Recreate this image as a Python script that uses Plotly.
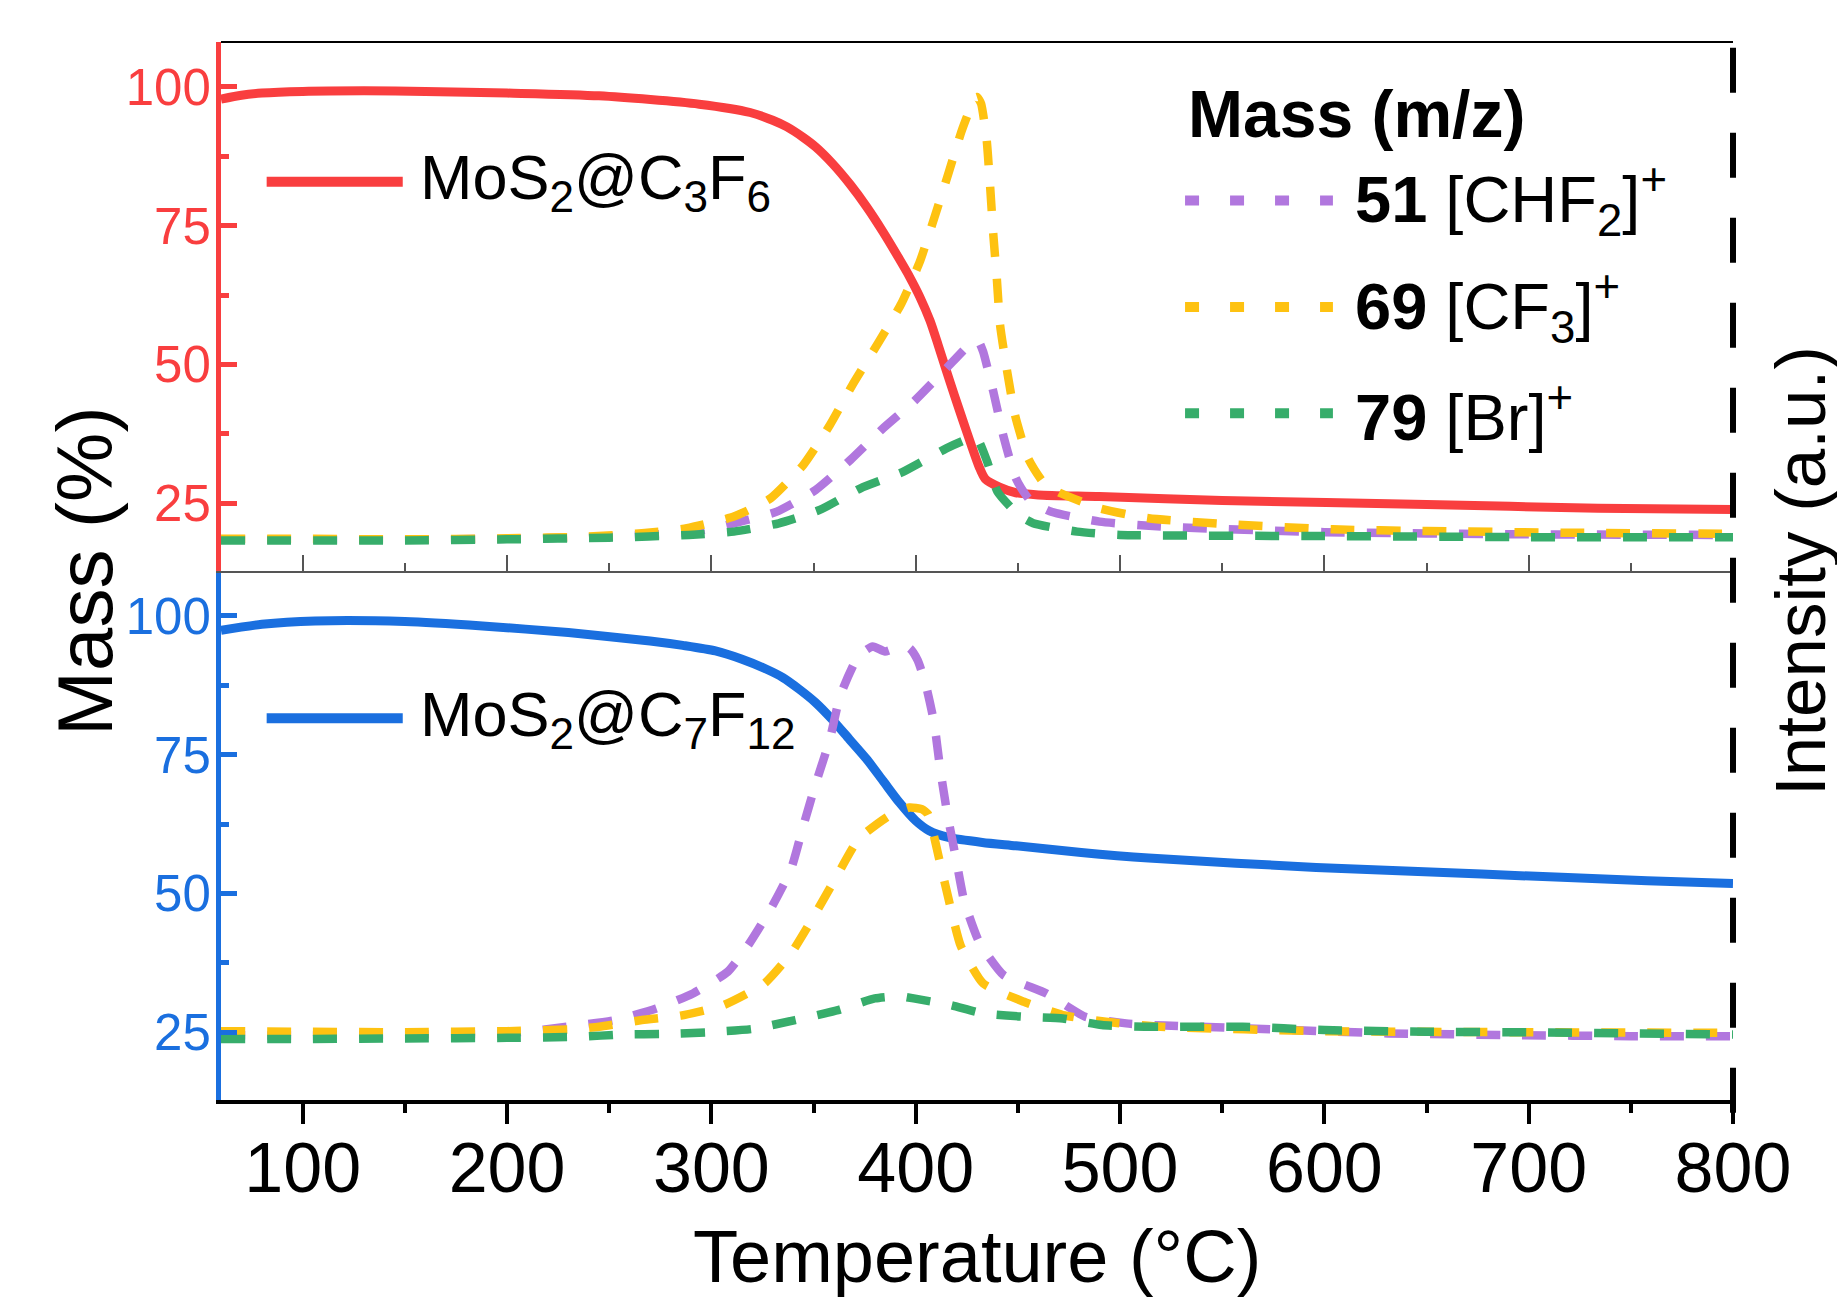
import plotly.graph_objects as go

# ---------------- data ----------------
# Top panel: MoS2@C3F6 mass (%)
T_MASS_TOP = [60, 70, 80, 100, 130, 160, 200, 245, 294, 319, 330, 337, 345, 351, 359, 368, 376, 384, 392,
              397, 402, 407, 411, 415, 419, 423, 427, 431, 434, 441, 449, 460, 490, 550, 650, 734, 800]
MASS_TOP = [97.8, 98.5, 98.9, 99.2, 99.3, 99.2, 98.9, 98.4, 96.9, 95.4, 94.0, 92.8, 90.9, 89.2, 86.3, 82.4,
            78.4, 73.9, 69.0, 65.8, 62.2, 57.9, 53.5, 48.9, 44.4, 40.0, 35.7, 31.6, 29.4, 27.9, 26.9,
            26.5, 26.2, 25.5, 24.8, 24.1, 23.9]

# Top panel MS intensities (a.u., plotted on same visual scale)
T_51_TOP = [60, 150, 200, 250, 290, 310, 332, 351, 368, 384, 399, 415, 428, 431, 433, 438, 443, 449, 456,
            466, 490, 520, 600, 700, 800]
I51_TOP = [18.5, 18.5, 18.6, 19.0, 19.8, 21.3, 23.5, 27.4, 32.8, 38.5, 43.3, 49.3, 54.1, 54.0, 52.3, 45.1,
           37.0, 29.5, 25.5, 23.5, 21.7, 20.8, 19.8, 19.4, 19.3]

T_69_TOP = [60, 100, 150, 200, 240, 266, 288, 311, 329, 345, 358, 369, 382, 393, 402, 409, 416, 422.5, 428,
            430, 432, 434.7, 436.4, 438, 439.7, 441.3, 444.5, 448.6, 455, 463, 471, 490, 514, 550, 604, 650,
            718, 800]
I69_TOP = [18.6, 18.6, 18.5, 18.7, 19.0, 19.6, 20.5, 22.6, 25.9, 31.9, 39.1, 46.3, 54.1, 61.0, 68.5, 76.3,
           84.4, 92.1, 97.3, 98.2, 97.0, 90.6, 82.2, 73.3, 65.5, 57.1, 49.3, 40.9, 33.1, 28.5, 26.8, 24.1,
           22.3, 21.3, 20.3, 20.0, 19.7, 19.5]

T_79_TOP = [60, 150, 200, 250, 289, 311, 333, 353, 373, 394, 415, 425, 430, 435, 440, 450, 457.5, 479, 500,
            600, 700, 800]
I79_TOP = [18.3, 18.3, 18.5, 18.8, 19.3, 19.9, 21.4, 23.8, 27.7, 30.7, 34.9, 36.5, 36.7, 32.5, 27.1, 23.0,
           21.4, 19.9, 19.3, 19.1, 18.9, 18.9]

# Bottom panel: MoS2@C7F12 mass (%)
T_MASS_BOT = [60, 80, 106, 150, 188, 230, 270, 286, 302, 315, 327, 335, 343, 351, 359, 367.5, 376, 384, 392,
              400, 406.6, 416, 432.6, 449, 481, 514, 596, 677, 758, 800]
MASS_BOT = [97.4, 98.5, 99.1, 99.0, 98.2, 97.0, 95.5, 94.7, 93.7, 92.2, 90.4, 88.9, 86.8, 84.4, 81.4, 77.8,
            74.2, 70.3, 66.4, 63.1, 61.3, 60.1, 59.2, 58.6, 57.4, 56.4, 54.7, 53.5, 52.3, 51.8]

T_51_BOT = [60, 100, 150, 200, 236, 253, 273, 291, 308, 318.6, 329, 339, 345, 351, 358, 363, 372, 379, 385,
            391, 397, 401, 405, 409, 412, 415.5, 419.6, 423.7, 431, 443, 464, 483, 503, 522, 563, 631, 693,
            750, 800]
I51_BOT = [24.5, 24.4, 24.6, 24.8, 26.3, 27.2, 29.3, 32.0, 35.9, 41.0, 47.2, 54.4, 62.2, 69.7, 77.8, 85.6,
           92.8, 94.5, 93.6, 94.3, 94.2, 92.0, 87.5, 80.8, 72.4, 64.3, 56.5, 48.7, 41.3, 35.3, 32.0, 27.8,
           26.6, 26.2, 25.7, 24.8, 24.5, 24.3, 24.3]

T_69_BOT = [60, 100, 150, 200, 230, 245, 266, 285, 306, 326, 339, 350, 361, 372, 387, 397, 403, 406, 411.5,
            416.4, 422, 433, 453, 472, 493, 520, 600, 700, 800]
I69_BOT = [25.2, 25.1, 25.0, 25.2, 25.5, 26.0, 27.2, 28.0, 29.9, 33.8, 39.2, 45.8, 52.9, 59.8, 64.0, 65.5,
           65.2, 64.3, 56.2, 48.5, 40.6, 33.8, 30.5, 28.1, 26.9, 26.0, 25.2, 25.0, 24.9]

T_79_BOT = [60, 100, 150, 200, 236, 256, 278, 298, 320, 341, 362, 380, 392, 399, 417, 433, 453, 472, 491,
            512, 560, 600, 650, 700, 750, 800]
I79_BOT = [23.8, 23.8, 23.9, 24.0, 24.2, 24.6, 24.7, 25.0, 25.6, 27.2, 29.0, 31.1, 31.5, 31.1, 29.9, 28.4,
           27.8, 27.5, 26.3, 26.0, 26.0, 25.4, 25.1, 25.0, 24.8, 24.6]

X_TICKS = [100, 200, 300, 400, 500, 600, 700, 800]
X_MINOR = [150, 250, 350, 450, 550, 650, 750]
Y_TICKS = [25, 50, 75, 100]
Y_MINOR = [37.5, 62.5, 87.5]

# ---------------- styles ----------------
RED = "#F93E3F"
BLUE = "#1A6FDF"
PURPLE = "#B177DE"
YELLOW = "#FEC211"
GREEN = "#37AD6B"
FONT = "Liberation Sans"
DASH = "24px,22px"

fig = go.Figure()


def add_line(x, y, color, xa, ya, dash=None, width=8.5, smoothing=0.5):
    fig.add_trace(go.Scatter(
        x=x, y=y, xaxis=xa, yaxis=ya, mode="lines",
        line=dict(color=color, width=width, dash=dash, shape="spline", smoothing=smoothing),
        showlegend=False, hoverinfo="skip"))


# top panel (x2/y2)
add_line(T_MASS_TOP, MASS_TOP, RED, "x2", "y2", None, 9, 0.7)
add_line(T_51_TOP, I51_TOP, PURPLE, "x2", "y2", DASH)
add_line(T_69_TOP, I69_TOP, YELLOW, "x2", "y2", DASH)
add_line(T_79_TOP, I79_TOP, GREEN, "x2", "y2", DASH)
# bottom panel (x/y)
add_line(T_MASS_BOT, MASS_BOT, BLUE, "x", "y", None, 9, 0.7)
add_line(T_51_BOT, I51_BOT, PURPLE, "x", "y", DASH)
add_line(T_69_BOT, I69_BOT, YELLOW, "x", "y", DASH)
add_line(T_79_BOT, I79_BOT, GREEN, "x", "y", DASH)

XR = [60, 800]
YR = [12.8, 108.1]


def yaxis_style(color, domain):
    return dict(
        domain=domain, range=YR, tickvals=Y_TICKS, ticks="inside", ticklen=16, tickwidth=4.5,
        tickcolor=color, showline=True, linecolor=color, linewidth=5, showgrid=False, zeroline=False,
        tickfont=dict(family=FONT, size=51, color=color), ticklabelstandoff=-5, automargin=False,
        minor=dict(tickvals=Y_MINOR, ticks="inside", ticklen=8, tickwidth=4.5, tickcolor=color),
    )


# page body has an 8px margin: the figure is shifted accordingly
fig.update_layout(
    width=1837, height=1289,
    margin=dict(l=213, r=112, t=34, b=197),
    paper_bgcolor="white", plot_bgcolor="white",
    font=dict(family=FONT, color="black"),
    xaxis=dict(
        domain=[0, 1], anchor="y", range=XR, tickvals=X_TICKS, ticks="outside", ticklen=20, tickwidth=4,
        tickcolor="black", showline=True, linecolor="black", linewidth=4, showgrid=False, zeroline=False,
        tickfont=dict(family=FONT, size=70, color="black"), ticklabelstandoff=-16, automargin=False,
        minor=dict(tickvals=X_MINOR, ticks="outside", ticklen=9, tickwidth=4, tickcolor="black"),
    ),
    xaxis2=dict(
        domain=[0, 1], anchor="y2", range=XR, matches="x", tickvals=X_TICKS, ticks="inside", ticklen=16,
        tickwidth=1.5, tickcolor="#555555", showline=True, linecolor="#555555", linewidth=1.5,
        showgrid=False, zeroline=False, showticklabels=False, automargin=False,
        minor=dict(tickvals=X_MINOR, ticks="inside", ticklen=8, tickwidth=1.5, tickcolor="#555555"),
    ),
    yaxis=yaxis_style(BLUE, [0, 0.5]),
    yaxis2=yaxis_style(RED, [0.5, 1]),
)

# frame: thin top line and dashed right edge
fig.add_shape(type="line", xref="paper", yref="paper", x0=0, x1=1, y0=1, y1=1,
              line=dict(color="black", width=2))
fig.add_shape(type="line", xref="paper", yref="paper", x0=1, x1=1, y0=-0.012, y1=1,
              line=dict(color="black", width=6, dash="45px,40px"))

# legend samples (paper coords)
fig.add_shape(type="line", xref="paper", yref="paper", x0=0.0302, x1=0.1202, y0=0.8680, y1=0.8680,
              line=dict(color=RED, width=10))
fig.add_shape(type="line", xref="paper", yref="paper", x0=0.0302, x1=0.1202, y0=0.3608, y1=0.3608,
              line=dict(color=BLUE, width=10))
for yy, col in [(0.8502, PURPLE), (0.7495, YELLOW), (0.6490, GREEN)]:
    fig.add_shape(type="line", xref="paper", yref="paper", x0=0.6376, x1=0.7354, y0=yy, y1=yy,
                  line=dict(color=col, width=10, dash="14px,31px"))

ann = [
    dict(text="MoS<sub>2</sub>@C<sub>3</sub>F<sub>6</sub>", x=0.1300, y=0.8680, size=63),
    dict(text="MoS<sub>2</sub>@C<sub>7</sub>F<sub>12</sub>", x=0.1300, y=0.3608, size=63),
    dict(text="<b>Mass (m/z)</b>", x=0.6382, y=0.9319, size=66),
    dict(text="<b>51</b> [CHF<sub>2</sub>]<sup>+</sup>", x=0.7487, y=0.8502, size=65),
    dict(text="<b>69</b> [CF<sub>3</sub>]<sup>+</sup>", x=0.7487, y=0.7495, size=65),
    dict(text="<b>79</b> [Br]<sup>+</sup>", x=0.7487, y=0.6490, size=65),
]
for a in ann:
    fig.add_annotation(text=a["text"], x=a["x"], y=a["y"], xref="paper", yref="paper",
                       xanchor="left", yanchor="middle", showarrow=False,
                       font=dict(family=FONT, size=a["size"], color="black"))

# axis titles
fig.add_annotation(text="Temperature (°C)", x=0.5, y=-0.148, xref="paper", yref="paper",
                   showarrow=False, xanchor="center", yanchor="middle",
                   font=dict(family=FONT, size=74, color="black"))
fig.add_annotation(text="Mass (%)", x=-0.090, y=0.5, xref="paper", yref="paper", textangle=-90,
                   showarrow=False, xanchor="center", yanchor="middle",
                   font=dict(family=FONT, size=78, color="black"))
fig.add_annotation(text="Intensity (a.u.)", x=1.0443, y=0.5, xref="paper", yref="paper", textangle=-90,
                   showarrow=False, xanchor="center", yanchor="middle",
                   font=dict(family=FONT, size=71, color="black"))

fig.write_html("out.html")
